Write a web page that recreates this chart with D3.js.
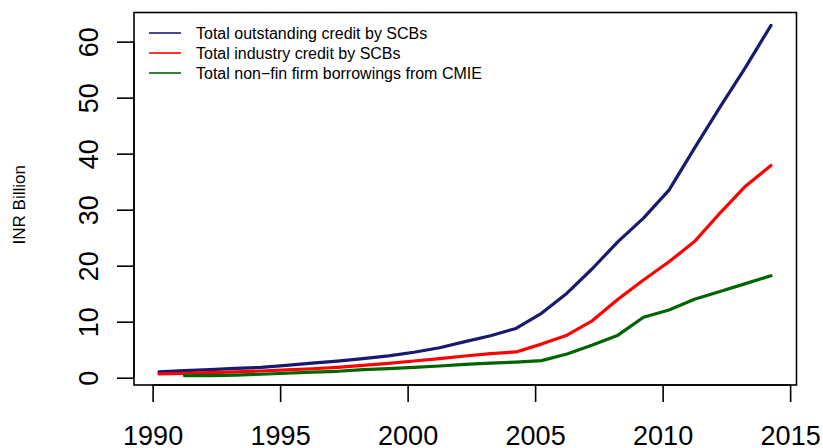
<!DOCTYPE html>
<html>
<head>
<meta charset="utf-8">
<script src="https://cdn.jsdelivr.net/npm/d3@7"></script>
<style>
  html, body { margin: 0; padding: 0; background: #fff; }
  svg { display: block; font-family: "Liberation Sans", Arial, Helvetica, sans-serif; }
</style>
</head>
<body>
<svg id="chart" width="823" height="448"></svg>
<script>
// Fiscal-year ends (March) as decimal years
const years = [1990.25, 1991.25, 1992.25, 1993.25, 1994.25, 1995.25, 1996.25, 1997.25,
  1998.25, 1999.25, 2000.25, 2001.25, 2002.25, 2003.25, 2004.25, 2005.25, 2006.25,
  2007.25, 2008.25, 2009.25, 2010.25, 2011.25, 2012.25, 2013.25, 2014.25];

// Total outstanding credit by SCBs (INR billion)
const outstandingCredit = [1.07, 1.25, 1.45, 1.67, 1.85, 2.2, 2.6, 2.95, 3.4, 3.9, 4.55,
  5.35, 6.45, 7.5, 8.8, 11.5, 15.1, 19.5, 24.3, 28.5, 33.5, 41.0, 48.3, 55.4, 62.9];

// Total industry credit by SCBs
const industryCredit = [0.68, 0.78, 0.9, 1.05, 1.2, 1.4, 1.6, 1.85, 2.2, 2.56, 2.98, 3.4,
  3.88, 4.3, 4.6, 6.0, 7.6, 10.2, 14.0, 17.45, 20.7, 24.3, 29.4, 34.2, 37.9];

// Total non-fin firm borrowings from CMIE (series begins a year later)
const firmYears = years.slice(1);
const firmBorrowings = [0.36, 0.38, 0.48, 0.62, 0.8, 1.0, 1.15, 1.43, 1.61, 1.85, 2.09,
  2.38, 2.6, 2.8, 3.05, 4.23, 5.84, 7.6, 10.8, 12.1, 14.0, 15.4, 16.8, 18.2];

const seriesNames = ["Total outstanding credit by SCBs", "Total industry credit by SCBs",
  "Total non\u2212fin firm borrowings from CMIE"];
const seriesColors = ["#191970", "#ff0000", "#006400"];

const xTicks = [1990, 1995, 2000, 2005, 2010, 2015];
const yTicks = [0, 10, 20, 30, 40, 50, 60];
const yLabel = "INR Billion";

const series = [
  { name: seriesNames[0], color: seriesColors[0], x: years, y: outstandingCredit },
  { name: seriesNames[1], color: seriesColors[1], x: years, y: industryCredit },
  { name: seriesNames[2], color: seriesColors[2], x: firmYears, y: firmBorrowings }
];

const svg = d3.select("#chart");
const box = { left: 134, right: 796.5, top: 12.5, bottom: 385 };

const x = d3.scaleLinear().domain([1989.27, 2015.25]).range([box.left, box.right]);
const y = d3.scaleLinear().domain([-1.3, 65.2]).range([box.bottom, box.top]);

// plot frame
svg.append("rect")
  .attr("x", box.left).attr("y", box.top)
  .attr("width", box.right - box.left).attr("height", box.bottom - box.top)
  .attr("fill", "none").attr("stroke", "#000").attr("stroke-width", 1.6);

// x axis
const xAxis = svg.append("g")
  .attr("transform", `translate(0,${box.bottom})`)
  .call(d3.axisBottom(x).tickValues(xTicks).tickFormat(d3.format("d")).tickSize(17).tickPadding(24));
xAxis.select(".domain").attr("d", `M${x(xTicks[0])},0H${x(xTicks[xTicks.length - 1])}`)
  .attr("stroke-width", 1.6);
xAxis.selectAll(".tick line").attr("stroke-width", 1.6);
xAxis.selectAll("text").attr("font-size", 27).attr("fill", "#000");

// y axis with labels parallel to the axis
const yAxis = svg.append("g")
  .attr("transform", `translate(${box.left},0)`)
  .call(d3.axisLeft(y).tickValues(yTicks).tickSize(17));
yAxis.select(".domain").attr("d", `M0,${y(yTicks[0])}V${y(yTicks[yTicks.length - 1])}`)
  .attr("stroke-width", 1.6);
yAxis.selectAll(".tick line").attr("stroke-width", 1.6);
yAxis.selectAll(".tick text")
  .attr("x", null).attr("dy", null)
  .attr("font-size", 27).attr("fill", "#000")
  .attr("text-anchor", "middle")
  .attr("transform", "translate(-36.5,0) rotate(-90)");

// axis title
svg.append("text")
  .attr("transform", `translate(25,${(box.top + box.bottom) / 2 + 6}) rotate(-90)`)
  .attr("text-anchor", "middle")
  .attr("font-size", 17)
  .text(yLabel);

// series lines
const line = d3.line().x(d => x(d[0])).y(d => y(d[1]));
svg.append("g").selectAll("path")
  .data(series)
  .join("path")
  .attr("d", s => line(s.x.map((v, i) => [v, s.y[i]])))
  .attr("fill", "none")
  .attr("stroke", s => s.color)
  .attr("stroke-width", 3.2)
  .attr("stroke-linejoin", "round")
  .attr("stroke-linecap", "round");

// legend (no frame)
const legend = svg.append("g").attr("transform", "translate(149,33)");
const rows = legend.selectAll("g").data(series).join("g")
  .attr("transform", (d, i) => `translate(0,${i * 20})`);
rows.append("line")
  .attr("x1", 0).attr("x2", 32).attr("y1", 0).attr("y2", 0)
  .attr("stroke", d => d.color).attr("stroke-width", 1.6);
rows.append("text")
  .attr("x", 47).attr("y", 5.8)
  .attr("font-size", 16)
  .text(d => d.name);
</script>
</body>
</html>
